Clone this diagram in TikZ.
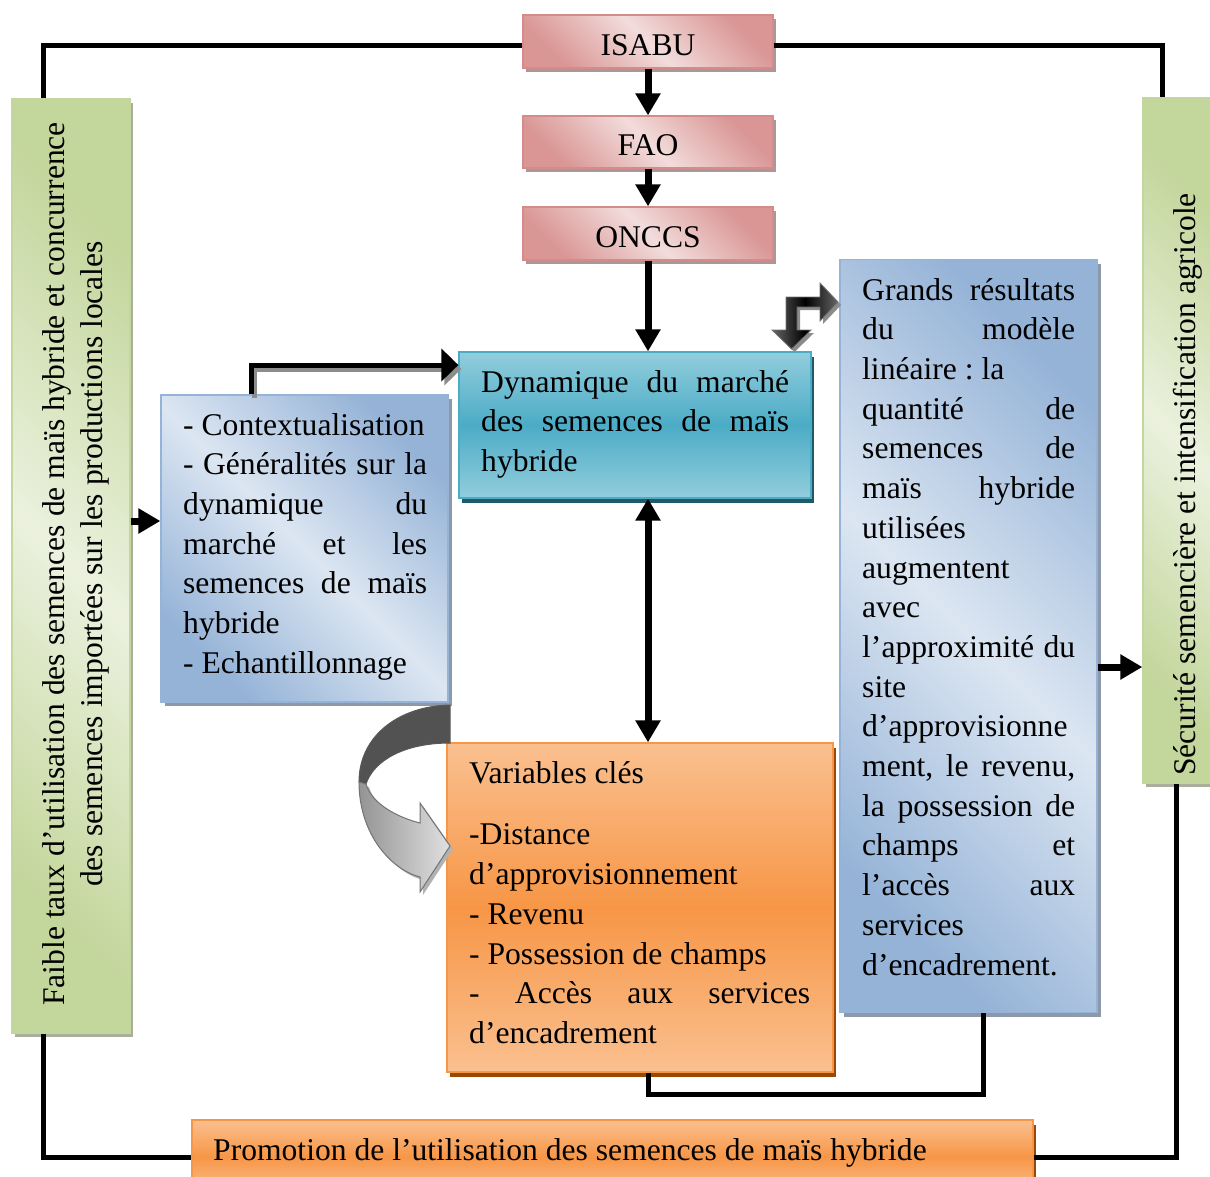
\documentclass[tikz,border=0pt]{standalone}
\usepackage{fontspec}
\setmainfont{Liberation Serif}
\usetikzlibrary{arrows.meta,shadows}
\definecolor{redD}{HTML}{D99694}
\definecolor{redL}{HTML}{F2DCDB}
\definecolor{redB}{HTML}{D58B89}
\definecolor{redS}{HTML}{A9979A}
\definecolor{bluD}{HTML}{95B3D7}
\definecolor{bluL}{HTML}{DCE6F2}
\definecolor{bluB}{HTML}{95B3D7}
\definecolor{bluS}{HTML}{8D99A9}
\definecolor{grnD}{HTML}{C3D69B}
\definecolor{grnL}{HTML}{EBF1DE}
\definecolor{grnB}{HTML}{C3D69B}
\definecolor{grnS}{HTML}{A9AE9D}
\definecolor{tealL}{HTML}{93CDDD}
\definecolor{tealM}{HTML}{4BACC6}
\definecolor{tealB}{HTML}{4BACC6}
\definecolor{tealS}{HTML}{215967}
\definecolor{orL}{HTML}{FAC090}
\definecolor{orM}{HTML}{F79646}
\definecolor{orB}{HTML}{F79646}
\definecolor{orS}{HTML}{984807}
\newcommand\bfs{\fontsize{31.6}{39.7}\selectfont\frenchspacing}
\newcommand\gfs{\fontsize{31.6}{38}\selectfont\frenchspacing}
\newcommand\stretchsp{\spaceskip=\fontdimen2\font plus 1fil\relax\xspaceskip=\spaceskip}
\newcommand\JusR[1]{\makebox[213pt][s]{\stretchsp #1}}
\newcommand\JusL[1]{\makebox[244pt][s]{\stretchsp #1}}
\newcommand\JusD[1]{\makebox[308pt][s]{\stretchsp #1}}
\newcommand\JusV[1]{\makebox[341pt][s]{\stretchsp #1}}
\begin{document}
\begin{tikzpicture}[x=1pt,y=-1pt,
  redbox/.style={draw=redB, line width=1.3pt, top color=redD, bottom color=redD, middle color=redL, shading angle=-45,
    drop shadow={shadow xshift=3pt,shadow yshift=-4pt,fill=redS,opacity=1}, inner sep=0pt, font=\bfs, text height=27pt, text depth=0pt},
  bluebox/.style={draw=bluB, line width=1.3pt, top color=bluD, bottom color=bluD, middle color=bluL, shading angle=-45,
    drop shadow={shadow xshift=4pt,shadow yshift=-4pt,fill=bluS,opacity=1}, inner sep=0pt},
  greenbox/.style={draw=grnB, line width=1.3pt, top color=grnD, bottom color=grnD, middle color=grnL, shading angle=-45,
    drop shadow={shadow xshift=3pt,shadow yshift=-4pt,fill=grnS,opacity=1}, inner sep=0pt},
  tealbox/.style={draw=tealB, line width=1.3pt, top color=tealL, bottom color=tealL, middle color=tealM,
    drop shadow={shadow xshift=3pt,shadow yshift=-5pt,fill=tealS,opacity=1}, inner sep=0pt},
  orbox/.style={draw=orB, line width=1.3pt, top color=orL, bottom color=orL, middle color=orM,
    drop shadow={shadow xshift=3pt,shadow yshift=-5pt,fill=orS,opacity=1}, inner sep=0pt},
  txt/.style={inner sep=0pt, anchor=north west, align=flush left, font=\bfs},
  conn/.style={line width=5pt, black},
  arr/.style={line width=7pt, black, -{Triangle[length=22pt,width=24pt]}},
  darr/.style={line width=7pt, black, {Triangle[length=22pt,width=24pt]}-{Triangle[length=22pt,width=24pt]}}
]
\useasboundingbox (0,0) rectangle (1210,1176);

% ---- boxes
\node[redbox, minimum width=250pt, minimum height=53pt] (isabu) at (648,41.5) {ISABU};
\node[redbox, minimum width=250pt, minimum height=52pt] (fao) at (648,142) {FAO};
\node[redbox, minimum width=250pt, minimum height=53pt] (onccs) at (648,233.5) {ONCCS};
\node[tealbox, minimum width=352pt, minimum height=146pt] (dyn) at (635,425) {};
\node[bluebox, minimum width=287pt, minimum height=307pt] (lblue) at (304.5,548.5) {};
\node[bluebox, minimum width=257pt, minimum height=753pt] (rblue) at (968.5,636) {};
\node[orbox, minimum width=386pt, minimum height=329pt] (var) at (640,907.5) {};
\node[orbox, minimum width=841pt, minimum height=74pt] (promo) at (612.5,1157) {};
\node[greenbox, minimum width=118pt, minimum height=934pt] (lgreen) at (71,566) {};
\node[greenbox, minimum width=69pt, minimum height=685pt] (rgreen) at (1177.5,440.5) {};

% ---- texts
\node[txt, text width=308pt] (dyntxt) at (481,364.2)
  {\strut\JusD{Dynamique du marché}\\ \JusD{des semences de maïs}\\ hybride};
\node[txt, text width=244pt] (lbtxt) at (183,407.2)
  {\strut - Contextualisation\\ \JusL{- Généralités sur la}\\ \JusL{dynamique du}\\ \JusL{marché et les}\\
   \JusL{semences de maïs}\\ hybride\\ - Echantillonnage};
\node[txt, text width=213pt] (rbtxt) at (862,272.2)
  {\strut\JusR{Grands résultats}\\ \JusR{du modèle}\\ linéaire : la\\ \JusR{quantité de}\\ \JusR{semences de}\\
   \JusR{maïs hybride}\\ utilisées\\ augmentent\\ avec\\ \JusR{l’approximité du}\\ site\\ d’approvisionne\\
   \JusR{ment, le revenu,}\\ \JusR{la possession de}\\ \JusR{champs et}\\ \JusR{l’accès aux}\\ services\\ d’encadrement.};
\node[txt, text width=341pt] (vartxt) at (469,755.2)
  {\strut Variables clés\\[22pt] -Distance\\ d’approvisionnement\\ - Revenu\\ - Possession de champs\\
   \JusV{- Accès aux services}\\ d’encadrement};
\node[anchor=base west, inner sep=0pt, font=\bfs] (promotxt) at (213,1160)
  {Promotion de l’utilisation des semences de maïs hybride};
\node[rotate=90, align=center, inner sep=0pt, font=\gfs] (lgtxt) at (76,564)
  {Faible taux d’utilisation des semences de maïs hybride et concurrence\\des semences importées sur les productions locales};
\node[rotate=90, anchor=base west, inner sep=0pt, font=\bfs] (rgtxt) at (1195,776)
  {Sécurité semencière et intensification agricole};

% ---- frame connectors
\draw[conn] ([xshift=32pt]lgreen.north west) |- ([yshift=-3.5pt]isabu.west);
\draw[conn] ([yshift=-3.5pt]isabu.east) -| ([xshift=20pt]rgreen.north west);
\draw[conn] ([xshift=32pt]lgreen.south west) |- (promo.west);
\draw[conn] (promo.east) -| ([xshift=34pt]rgreen.south west);

% ---- arrows
\draw[arr] (isabu) -- (fao);
\draw[arr] (fao) -- (onccs);
\draw[arr] (onccs.south) -- (onccs.south |- dyn.north);
\draw[darr] (onccs.south |- dyn.south) -- (onccs.south |- var.north);
\draw[arr] (lgreen.east |- 0,521) -- (lblue.west |- 0,521);
\draw[arr] (rblue.east |- 0,667) -- (rgreen.west |- 0,667);
\draw[line width=5pt, black!45, -{Triangle[length=17pt,width=32pt]}, transform canvas={xshift=3pt,yshift=-4pt}]
  ([xshift=91pt]lblue.north west) |- (dyn.west |- 0,365);
\draw[line width=5pt, black, -{Triangle[length=17pt,width=32pt]}]
  ([xshift=91pt]lblue.north west) |- (dyn.west |- 0,365);
\draw[conn] (onccs.south |- var.south) -- ++(0,22) -| ([xshift=144pt]rblue.south west);

% ---- bent double arrow between dyn and rblue
\fill[black!45] ([shift={(3,3)}]838,302) -- ([shift={(3,3)}]820,283) -- ([shift={(3,3)}]820,297) -- ([shift={(3,3)}]786,297)
  -- ([shift={(3,3)}]786,330) -- ([shift={(3,3)}]772,330) -- ([shift={(3,3)}]791.5,349) -- ([shift={(3,3)}]811,330)
  -- ([shift={(3,3)}]797,330) -- ([shift={(3,3)}]797,307) -- ([shift={(3,3)}]820,307) -- ([shift={(3,3)}]820,321) -- cycle;
\draw[black!55, line width=0.8pt, left color=black!60, right color=black!60, middle color=black]
  (838,302) -- (820,283) -- (820,297) -- (786,297) -- (786,330) -- (772,330) -- (791.5,349) -- (811,330)
  -- (797,330) -- (797,307) -- (820,307) -- (820,321) -- cycle;

% ---- curved arrow from lblue to var
\fill[black!30] (362,785) .. controls (362,838) and (395,873) .. (423,880) -- (423,895) -- (453,849) -- (423,806) -- (423,826)
  .. controls (403,821) and (375,808) .. (369,787) -- cycle;
\draw[black!65, line width=1pt, fill=black!68] (450,705) .. controls (400,706) and (359,735) .. (359,782) -- (366,784)
  .. controls (374,760) and (405,743) .. (450,743) -- cycle;
\draw[black!55, line width=1pt, left color=black!42, right color=black!12]
  (359,782) .. controls (359,835) and (392,870) .. (420,877) -- (420,892) -- (450,846) -- (420,803) -- (420,823)
  .. controls (400,818) and (372,805) .. (366,784) -- cycle;
\end{tikzpicture}
\end{document}
